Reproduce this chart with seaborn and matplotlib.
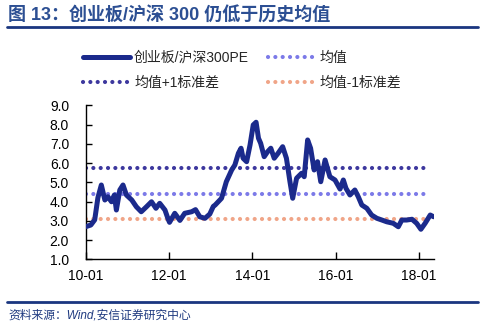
import matplotlib
matplotlib.use("Agg")
import matplotlib.pyplot as plt
import matplotlib.dates as mdates
from matplotlib.lines import Line2D
import seaborn as sns
import pandas as pd

# ---------------- data ----------------
dates = ["2010-01-04", "2010-02-15", "2010-03-21", "2010-04-18", "2010-05-18", "2010-06-18",
         "2010-07-15", "2010-08-15", "2010-09-09", "2010-09-27", "2010-10-27", "2010-11-24",
         "2010-12-24", "2011-02-09", "2011-03-21", "2011-05-03", "2011-06-18", "2011-08-01",
         "2011-09-09", "2011-10-12", "2011-11-27", "2011-12-24", "2012-01-06", "2012-02-21",
         "2012-04-06", "2012-05-18", "2012-07-18", "2012-08-21", "2012-09-27", "2012-11-12",
         "2012-12-24", "2013-01-24", "2013-02-09", "2013-04-06", "2013-05-18", "2013-07-04",
         "2013-08-01", "2013-09-01", "2013-09-24", "2013-10-12", "2013-11-12", "2013-12-12",
         "2014-01-09", "2014-02-03", "2014-02-24", "2014-03-15", "2014-04-15", "2014-05-15",
         "2014-06-12", "2014-07-12", "2014-08-15", "2014-09-24", "2014-10-27", "2014-11-27",
         "2014-12-21", "2015-01-24", "2015-03-09", "2015-04-01", "2015-05-01", "2015-05-27",
         "2015-06-27", "2015-07-27", "2015-08-24", "2015-10-01", "2015-11-12", "2015-12-27",
         "2016-02-09", "2016-03-09", "2016-04-01", "2016-05-06", "2016-06-18", "2016-07-18",
         "2016-08-18", "2016-10-01", "2016-11-12", "2016-12-28", "2017-02-10", "2017-03-24",
         "2017-05-21", "2017-07-04", "2017-08-04", "2017-09-15", "2017-11-01", "2017-12-12",
         "2018-01-18", "2018-02-24", "2018-04-10", "2018-05-10"]
pe_ratio = [2.70, 2.78, 3.05, 4.20, 4.86, 4.08,
            4.25, 3.99, 4.34, 3.56, 4.60, 4.86,
            4.34, 4.08, 3.73, 3.47, 3.73, 3.99,
            3.65, 3.91, 3.56, 3.10, 2.92, 3.39,
            3.02, 3.39, 3.47, 3.58, 3.21, 3.13,
            3.35, 3.75, 3.82, 4.17, 5.03, 5.64,
            5.90, 6.51, 6.77, 6.25, 6.07, 6.94,
            7.98, 8.12, 7.29, 7.03, 6.33, 6.59,
            6.77, 6.25, 6.51, 6.85, 6.25, 5.03,
            4.17, 5.21, 5.47, 5.29, 7.20, 6.77,
            5.64, 6.07, 5.03, 6.16, 5.29, 5.12,
            4.65, 5.12, 4.69, 4.34, 4.60, 4.25,
            3.82, 3.65, 3.30, 3.13, 3.04, 2.95,
            2.87, 2.69, 3.04, 3.04, 3.08, 2.87,
            2.56, 2.87, 3.30, 3.21]
ref_dates = ["2010-01-01", "2018-04-10"]
mean_val = [4.40, 4.40]
plus_sd = [5.73, 5.73]
minus_sd = [3.07, 3.07]

series_label = "创业板/沪深300PE"
mean_label = "均值"
plus_label = "均值+1标准差"
minus_label = "均值-1标准差"
title_text = "图 13：创业板/沪深 300 仍低于历史均值"
source_text = "资料来源：Wind,安信证券研究中心"
yticks = [1.0, 2.0, 3.0, 4.0, 5.0, 6.0, 7.0, 8.0, 9.0]
xtick_dates = ["2010-01-01", "2012-01-01", "2014-01-01", "2016-01-01", "2018-01-01"]

# ---------------- style ----------------
sns.set_theme(style="ticks")
plt.rcParams["font.family"] = ["Liberation Sans", "Noto Sans CJK SC", "DejaVu Sans"]
plt.rcParams["axes.unicode_minus"] = False

W, H = 485, 327
fig = plt.figure(figsize=(W / 100, H / 100), dpi=100)
fig.patch.set_facecolor("white")

ax_left, ax_right = 85.7, 434.0
ax_top, ax_bottom = 105.3, 259.3
ax = fig.add_axes([ax_left / W, 1 - ax_bottom / H, (ax_right - ax_left) / W, (ax_bottom - ax_top) / H])

navy = "#1B2A8C"
c_plus = "#3D389E"
c_mean = "#7C7AE8"
c_minus = "#F0A588"

df = pd.DataFrame({"date": pd.to_datetime(dates), "pe": pe_ratio})
ref = pd.DataFrame({"date": pd.to_datetime(ref_dates), "mean": mean_val,
                    "plus": plus_sd, "minus": minus_sd})

dot_lw = 3.0
dot_style = (0, (0.01, 1.75))

sns.lineplot(data=ref, x="date", y="minus", ax=ax, color=c_minus, lw=dot_lw,
             linestyle=dot_style, dash_capstyle="round", label=minus_label, zorder=2)
sns.lineplot(data=ref, x="date", y="mean", ax=ax, color=c_mean, lw=dot_lw,
             linestyle=dot_style, dash_capstyle="round", label=mean_label, zorder=2)
sns.lineplot(data=ref, x="date", y="plus", ax=ax, color=c_plus, lw=dot_lw,
             linestyle=dot_style, dash_capstyle="round", label=plus_label, zorder=2)
sns.lineplot(data=df, x="date", y="pe", ax=ax, color=navy, lw=3.6,
             solid_joinstyle="round", solid_capstyle="round", label=series_label, zorder=3)

ax.set_ylim(1.0, 9.0)
ax.set_xlim(pd.Timestamp("2010-01-01"), pd.Timestamp("2018-05-13"))
ax.set_yticks(yticks)
ax.set_yticklabels([f"{v:.1f}" for v in yticks])
ax.set_xticks(pd.to_datetime(xtick_dates))
ax.xaxis.set_major_formatter(mdates.DateFormatter("%y-%m"))
ax.set_xlabel("")
ax.set_ylabel("")
ax.tick_params(axis="y", direction="in", length=4, width=1, pad=12, labelsize=10, colors="black")
ax.tick_params(axis="x", direction="in", length=5, width=1, pad=7, labelsize=10, colors="black")
for s in ["top", "right"]:
    ax.spines[s].set_visible(False)
for s in ["left", "bottom"]:
    ax.spines[s].set_color("black")
    ax.spines[s].set_linewidth(1.0)
ax.set_facecolor("white")

# legend
handles, labels = ax.get_legend_handles_labels()
hmap = dict(zip(labels, handles))
ax.get_legend().remove()
order = [series_label, plus_label, mean_label, minus_label]
leg = fig.legend([hmap[k] for k in order], order, ncol=2, loc="upper left",
                 bbox_to_anchor=(73 / W, 1 - 41 / H), frameon=False, fontsize=10,
                 handlelength=3.4, handletextpad=0.3, columnspacing=1.35,
                 labelspacing=0.78, borderpad=0.2)

# title & decorations
fig.text(8 / W, 1 - 16 / H, title_text, fontsize=13, fontweight="bold", color="#2C4F93",
         va="center", ha="left")
fig.add_artist(Line2D([7 / W, 478 / W], [1 - 27 / H, 1 - 27 / H], color="#1A3680", lw=2.0))
fig.add_artist(Line2D([7 / W, 478 / W], [1 - 302 / H, 1 - 302 / H], color="#1A3680", lw=2.0))
fig.text(8 / W, 1 - 316 / H, source_text, fontsize=8.5, style="italic", color="#1F3A80",
         va="center", ha="left")

fig.savefig("out.png", dpi=100, facecolor="white")
